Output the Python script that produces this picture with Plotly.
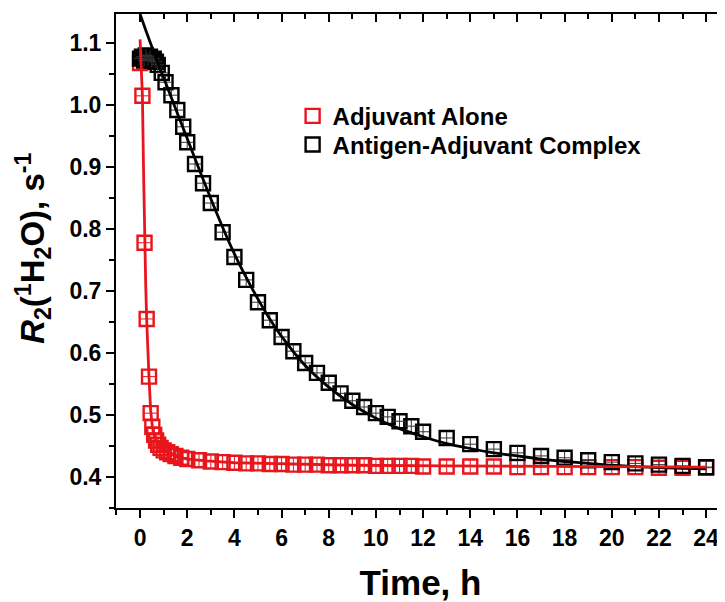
import plotly.graph_objects as go

# ---------------- data ----------------
t_alone = [0, 0.1, 0.19, 0.28, 0.38, 0.45, 0.52, 0.6, 0.68, 0.77, 0.87, 1.0, 1.15, 1.3,
           1.5, 1.75, 2.0, 2.5, 3.0, 3.5, 4.0, 4.5, 5.0, 5.5, 6.0, 6.5, 7.0, 7.5, 8.0,
           8.5, 9.0, 9.5, 10.0, 10.5, 11.0, 11.5, 12, 13, 14, 15, 16, 17, 18, 19, 20,
           21, 22, 23, 24]
r2_alone = [1.068, 1.015, 0.778, 0.655, 0.562, 0.503, 0.481, 0.468, 0.459, 0.452, 0.447,
            0.443, 0.44, 0.437, 0.434, 0.431, 0.429, 0.427, 0.425, 0.424, 0.423, 0.422,
            0.422, 0.421, 0.421, 0.42, 0.42, 0.42, 0.419, 0.419, 0.419, 0.419, 0.418,
            0.418, 0.418, 0.418, 0.417, 0.417, 0.417, 0.417, 0.416, 0.416, 0.416, 0.416,
            0.416, 0.416, 0.415, 0.415, 0.415]

t_complex = [0, 0.08, 0.17, 0.25, 0.33, 0.42, 0.5, 0.58, 0.67, 0.75, 0.92, 1.08, 1.33,
             1.58, 1.83, 2.0, 2.33, 2.67, 3.0, 3.5, 4.0, 4.5, 5.0, 5.5, 6.0, 6.5, 7.0,
             7.5, 8.0, 8.5, 9.0, 9.5, 10.0, 10.5, 11.0, 11.5, 12, 13, 14, 15, 16, 17,
             18, 19, 20, 21, 22, 23, 24]
r2_complex = [1.075, 1.078, 1.072, 1.08, 1.074, 1.078, 1.072, 1.075, 1.07, 1.065, 1.052,
              1.037, 1.016, 0.992, 0.965, 0.94, 0.905, 0.874, 0.842, 0.795, 0.755, 0.718,
              0.682, 0.653, 0.626, 0.603, 0.584, 0.568, 0.552, 0.535, 0.523, 0.513,
              0.503, 0.497, 0.49, 0.482, 0.473, 0.463, 0.453, 0.445, 0.439, 0.434, 0.431,
              0.427, 0.424, 0.422, 0.42, 0.418, 0.416]

# fitted curves
fit_t_alone = [0, 0.05, 0.1, 0.15, 0.19, 0.24, 0.28, 0.33, 0.38, 0.45, 0.52, 0.6, 0.7,
               0.85, 1.0, 1.2, 1.5, 2.0, 2.8, 4, 6, 9, 13, 18, 24]
fit_alone = [1.106, 1.06, 1.015, 0.89, 0.778, 0.71, 0.655, 0.6, 0.56, 0.507, 0.482,
             0.468, 0.458, 0.449, 0.443, 0.439, 0.434, 0.429, 0.426, 0.423, 0.421,
             0.419, 0.418, 0.417, 0.416]

fit_t_complex = [0, 0.25, 0.5, 0.75, 1.0, 1.5, 2.0, 2.5, 3.0, 3.5, 4.0, 4.5, 5.0, 5.5,
                 6.0, 7.0, 8.0, 9.0, 10.0, 11.0, 12.0, 13, 14, 15, 16, 17, 18, 19, 20,
                 22, 24]
fit_complex = [1.147, 1.12, 1.094, 1.068, 1.044, 0.995, 0.946, 0.897, 0.849, 0.803, 0.76,
               0.722, 0.687, 0.655, 0.627, 0.58, 0.545, 0.517, 0.495, 0.478, 0.465,
               0.454, 0.446, 0.439, 0.434, 0.429, 0.425, 0.422, 0.419, 0.415, 0.413]

x_ticks = list(range(0, 25, 2))
y_ticks = [0.4, 0.5, 0.6, 0.7, 0.8, 0.9, 1.0, 1.1]

RED = "rgb(232,22,28)"
BLACK = "black"
FONT = "Liberation Sans, Arial, sans-serif"
X_RANGE = [-1.02, 24.8]
Y_RANGE = [0.35, 1.147]

fig = go.Figure()

# red markers (bottom layer)
fig.add_trace(go.Scatter(
    x=t_alone, y=r2_alone, mode="markers", name="Adjuvant Alone", legend="legend",
    marker=dict(symbol="square-open", size=14, color=RED, line=dict(width=2.4, color=RED))))
fig.add_trace(go.Scatter(
    x=t_alone, y=r2_alone, mode="markers", showlegend=False, hoverinfo="skip",
    marker=dict(symbol="cross-thin-open", size=9, color=RED, line=dict(width=1, color=RED))))
# black markers
fig.add_trace(go.Scatter(
    x=t_complex, y=r2_complex, mode="markers", name="Antigen-Adjuvant Complex",
    legend="legend2",
    marker=dict(symbol="square-open", size=14, color=BLACK, line=dict(width=2.4, color=BLACK))))
fig.add_trace(go.Scatter(
    x=t_complex, y=r2_complex, mode="markers", showlegend=False, hoverinfo="skip",
    marker=dict(symbol="cross-thin-open", size=9, color="#333",
                line=dict(width=1, color="#333"))))
# fit lines
fig.add_trace(go.Scatter(
    x=fit_t_complex, y=fit_complex, mode="lines", showlegend=False,
    line=dict(color=BLACK, width=2.8, shape="spline", smoothing=0.6)))
fig.add_trace(go.Scatter(
    x=fit_t_alone, y=fit_alone, mode="lines", showlegend=False,
    line=dict(color=RED, width=2.8)))
# dummy trace for the mirrored top/right axes
fig.add_trace(go.Scatter(x=[None], y=[None], xaxis="x2", yaxis="y2",
                         showlegend=False, hoverinfo="skip"))

tickfont = dict(family=FONT, size=23, color="black", weight="bold")
legfont = dict(family=FONT, size=24, color="black", weight="bold")

# the page adds an 8 px body margin, so the figure is 8 px smaller and shifted
fig.update_layout(
    width=717, height=594,
    margin=dict(l=108, r=0, t=6, b=94, autoexpand=False),
    paper_bgcolor="white", plot_bgcolor="white",
    showlegend=True,
    legend=dict(x=0.29, y=0.793, xanchor="left", yanchor="middle",
                bgcolor="rgba(0,0,0,0)", font=legfont),
    legend2=dict(x=0.29, y=0.735, xanchor="left", yanchor="middle",
                 bgcolor="rgba(0,0,0,0)", font=legfont),
    xaxis=dict(range=X_RANGE, tickvals=x_ticks, ticks="outside", ticklen=8,
               tickwidth=2, tickcolor="black", showline=True, linewidth=2,
               linecolor="black", showgrid=False, zeroline=False, tickfont=tickfont,
               minor=dict(dtick=1, tick0=0, ticks="outside", ticklen=5, tickwidth=2,
                          tickcolor="black", showgrid=False),
               title=dict(text="Time, h", standoff=22,
                          font=dict(family=FONT, size=35, color="black", weight="bold"))),
    yaxis=dict(range=Y_RANGE, tickvals=y_ticks, tickformat=".1f", ticks="outside",
               ticklen=8, tickwidth=2, tickcolor="black", showline=True, linewidth=2,
               linecolor="black", showgrid=False, zeroline=False, tickfont=tickfont,
               minor=dict(dtick=0.05, tick0=0.4, ticks="outside", ticklen=5,
                          tickwidth=2, tickcolor="black", showgrid=False)),
    xaxis2=dict(overlaying="x", side="top", anchor="y", range=X_RANGE, tickvals=x_ticks,
                ticks="inside", ticklen=8, tickwidth=2, tickcolor="black",
                showticklabels=False, showline=True, linewidth=2, linecolor="black",
                showgrid=False, zeroline=False,
                minor=dict(dtick=1, tick0=0, ticks="inside", ticklen=5, tickwidth=2,
                           tickcolor="black", showgrid=False)),
    yaxis2=dict(overlaying="y", side="right", anchor="x", range=Y_RANGE, tickvals=y_ticks,
                ticks="inside", ticklen=8, tickwidth=2, tickcolor="black",
                showticklabels=False, showline=True, linewidth=2, linecolor="black",
                showgrid=False, zeroline=False,
                minor=dict(dtick=0.05, tick0=0.4, ticks="inside", ticklen=5,
                           tickwidth=2, tickcolor="black", showgrid=False)),
    annotations=[dict(
        text="<i>R</i><sub>2</sub>(<sup>1</sup>H<sub>2</sub>O), s<sup>-1</sup>",
        xref="paper", yref="paper", x=-0.136, y=0.525, xanchor="center", yanchor="middle",
        textangle=-90, showarrow=False,
        font=dict(family=FONT, size=33, color="black", weight="bold"))],
)

fig.write_html("out.html")
